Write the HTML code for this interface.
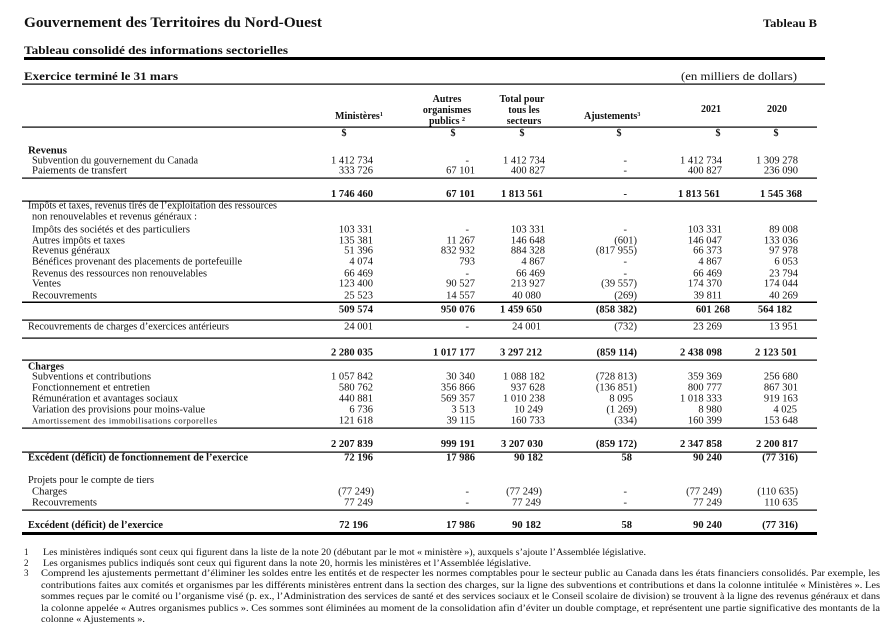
<!DOCTYPE html>
<html><head><meta charset="utf-8"><style>
html,body{margin:0;padding:0;background:#fff;}
svg{display:block;}
text{font-family:"Liberation Serif",serif;fill:#111;}
.n{font-size:10.5px;text-anchor:end;}
.l{font-size:10px;}
.b{font-weight:bold;}
.c{text-anchor:middle;}
.f{font-size:9px;}
</style></head><body>
<svg width="886" height="626" viewBox="0 0 886 626" xmlns="http://www.w3.org/2000/svg">
<text x="24" y="27" font-size="15" font-weight="bold" textLength="298" lengthAdjust="spacingAndGlyphs">Gouvernement  des Territoires  du Nord-Ouest</text>
<text x="763" y="27" font-size="12" font-weight="bold" textLength="54" lengthAdjust="spacingAndGlyphs">Tableau B</text>
<text x="24" y="54" font-size="12" font-weight="bold" textLength="264" lengthAdjust="spacingAndGlyphs">Tableau consolidé des informations sectorielles</text>
<rect x="24" y="57" width="801" height="3" fill="#000"/>
<text x="24" y="80" font-size="12" font-weight="bold" textLength="154" lengthAdjust="spacingAndGlyphs">Exercice terminé le 31 mars</text>
<text x="681" y="80" font-size="12" textLength="116" lengthAdjust="spacingAndGlyphs">(en milliers de dollars)</text>
<rect x="22" y="83.5" width="803" height="1.2" fill="#000"/>

<g font-size="10" font-weight="bold">
<text x="335" y="119">Ministères<tspan font-size="6" dy="-3">1</tspan></text>
<text x="447" y="102" class="c">Autres</text>
<text x="447" y="113" class="c">organismes</text>
<text x="447" y="124" class="c">publics <tspan font-size="6" dy="-3">2</tspan></text>
<text x="522" y="102" class="c">Total pour</text>
<text x="524" y="113" class="c">tous les</text>
<text x="524" y="124" class="c">secteurs</text>
<text x="584" y="119">Ajustements<tspan font-size="6" dy="-3">3</tspan></text>
<text x="711" y="112" class="c">2021</text>
<text x="777" y="112" class="c">2020</text>
<text x="344" y="136" class="c">$</text>
<text x="453" y="136" class="c">$</text>
<text x="522" y="136" class="c">$</text>
<text x="619" y="136" class="c">$</text>
<text x="718" y="136" class="c">$</text>
<text x="776" y="136" class="c">$</text>
</g>
<g fill="#000">
<rect x="22" y="126.5" width="795" height="1.2"/>
<rect x="22" y="177.5" width="795" height="1.2"/>
<rect x="22" y="200.5" width="795" height="1.2"/>
<rect x="22" y="301.5" width="795" height="1.5"/>
<rect x="22" y="319.5" width="795" height="1.2"/>
<rect x="22" y="337.5" width="795" height="1.2"/>
<rect x="22" y="359.5" width="795" height="1.2"/>
<rect x="22" y="427.5" width="795" height="1.2"/>
<rect x="22" y="451.5" width="795" height="1.2"/>
<rect x="22" y="509.5" width="795" height="1.2"/>
<rect x="22" y="532" width="795" height="3"/>
</g>

<text class="l b" x="28" y="153.5" textLength="39" lengthAdjust="spacingAndGlyphs">Revenus</text>
<text class="l" x="32" y="163.5" textLength="166" lengthAdjust="spacingAndGlyphs">Subvention du gouvernement du Canada</text>
<text class="l" x="32" y="173.5" textLength="95" lengthAdjust="spacingAndGlyphs">Paiements de transfert</text>
<text class="l" x="28" y="208.5" textLength="249" lengthAdjust="spacingAndGlyphs">Impôts et taxes, revenus tirés de l’exploitation des ressources</text>
<text class="l" x="32" y="219.5" textLength="165" lengthAdjust="spacingAndGlyphs">non renouvelables et revenus généraux :</text>
<text class="l" x="32" y="232.5" textLength="158" lengthAdjust="spacingAndGlyphs">Impôts des sociétés et des particuliers</text>
<text class="l" x="32" y="243.5" textLength="93" lengthAdjust="spacingAndGlyphs">Autres impôts et taxes</text>
<text class="l" x="32" y="253.5" textLength="78" lengthAdjust="spacingAndGlyphs">Revenus généraux</text>
<text class="l" x="32" y="264.5" textLength="210" lengthAdjust="spacingAndGlyphs">Bénéfices provenant des placements de portefeuille</text>
<text class="l" x="32" y="276.5" textLength="175" lengthAdjust="spacingAndGlyphs">Revenus des ressources non renouvelables</text>
<text class="l" x="32" y="286.5" textLength="29" lengthAdjust="spacingAndGlyphs">Ventes</text>
<text class="l" x="32" y="298.5" textLength="65" lengthAdjust="spacingAndGlyphs">Recouvrements</text>
<text class="l" x="28" y="329.5" textLength="201" lengthAdjust="spacingAndGlyphs">Recouvrements de charges d’exercices antérieurs</text>
<text class="l b" x="28" y="369.5" textLength="36" lengthAdjust="spacingAndGlyphs">Charges</text>
<text class="l" x="32" y="379.5" textLength="119" lengthAdjust="spacingAndGlyphs">Subventions et contributions</text>
<text class="l" x="32" y="390.5" textLength="118" lengthAdjust="spacingAndGlyphs">Fonctionnement et entretien</text>
<text class="l" x="32" y="401.5" textLength="146" lengthAdjust="spacingAndGlyphs">Rémunération et avantages sociaux</text>
<text class="l" x="32" y="412.5" textLength="173" lengthAdjust="spacingAndGlyphs">Variation des provisions pour moins-value</text>
<text x="32" y="423.5" font-size="8.5" textLength="185" lengthAdjust="spacing">Amortissement   des   immobilisations   corporelles</text>
<text class="l b" x="28" y="460.5" textLength="220" lengthAdjust="spacingAndGlyphs">Excédent (déficit) de fonctionnement de l’exercice</text>
<text class="l" x="28" y="483" textLength="126" lengthAdjust="spacingAndGlyphs">Projets pour le compte de tiers</text>
<text class="l" x="32" y="494.5" textLength="35" lengthAdjust="spacingAndGlyphs">Charges</text>
<text class="l" x="32" y="505.5" textLength="65" lengthAdjust="spacingAndGlyphs">Recouvrements</text>
<text class="l b" x="28" y="528" textLength="135" lengthAdjust="spacingAndGlyphs">Excédent (déficit) de l’exercice</text>

<text class="n" x="373" y="163.5">1 412 734</text><text class="n" x="469" y="163.5">-</text><text class="n" x="545" y="163.5">1 412 734</text><text class="n" x="627" y="163.5">-</text><text class="n" x="722" y="163.5">1 412 734</text><text class="n" x="798" y="163.5">1 309 278</text>
<text class="n" x="373" y="173.5">333 726</text><text class="n" x="475" y="173.5">67 101</text><text class="n" x="545" y="173.5">400 827</text><text class="n" x="627" y="173.5">-</text><text class="n" x="722" y="173.5">400 827</text><text class="n" x="798" y="173.5">236 090</text>
<g font-weight="bold">
<text class="n" x="373" y="197">1 746 460</text><text class="n" x="475" y="197">67 101</text><text class="n" x="543" y="197">1 813 561</text><text class="n" x="627" y="197">-</text><text class="n" x="720" y="197">1 813 561</text><text class="n" x="802" y="197">1 545 368</text>
</g>
<text class="n" x="373" y="232.5">103 331</text><text class="n" x="469" y="232.5">-</text><text class="n" x="545" y="232.5">103 331</text><text class="n" x="627" y="232.5">-</text><text class="n" x="722" y="232.5">103 331</text><text class="n" x="798" y="232.5">89 008</text>
<text class="n" x="373" y="243.5">135 381</text><text class="n" x="475" y="243.5">11 267</text><text class="n" x="545" y="243.5">146 648</text><text class="n" x="637" y="243.5">(601)</text><text class="n" x="722" y="243.5">146 047</text><text class="n" x="798" y="243.5">133 036</text>
<text class="n" x="373" y="253.5">51 396</text><text class="n" x="475" y="253.5">832 932</text><text class="n" x="545" y="253.5">884 328</text><text class="n" x="637" y="253.5">(817 955)</text><text class="n" x="722" y="253.5">66 373</text><text class="n" x="798" y="253.5">97 978</text>
<text class="n" x="373" y="264.5">4 074</text><text class="n" x="475" y="264.5">793</text><text class="n" x="545" y="264.5">4 867</text><text class="n" x="627" y="264.5">-</text><text class="n" x="722" y="264.5">4 867</text><text class="n" x="798" y="264.5">6 053</text>
<text class="n" x="373" y="276.5">66 469</text><text class="n" x="469" y="276.5">-</text><text class="n" x="545" y="276.5">66 469</text><text class="n" x="627" y="276.5">-</text><text class="n" x="722" y="276.5">66 469</text><text class="n" x="798" y="276.5">23 794</text>
<text class="n" x="373" y="286.5">123 400</text><text class="n" x="475" y="286.5">90 527</text><text class="n" x="545" y="286.5">213 927</text><text class="n" x="637" y="286.5">(39 557)</text><text class="n" x="722" y="286.5">174 370</text><text class="n" x="798" y="286.5">174 044</text>
<text class="n" x="373" y="298.5">25 523</text><text class="n" x="475" y="298.5">14 557</text><text class="n" x="541" y="298.5">40 080</text><text class="n" x="637" y="298.5">(269)</text><text class="n" x="722" y="298.5">39 811</text><text class="n" x="798" y="298.5">40 269</text>
<g font-weight="bold">
<text class="n" x="373" y="312.5">509 574</text><text class="n" x="475" y="312.5">950 076</text><text class="n" x="542" y="312.5">1 459 650</text><text class="n" x="637" y="312.5">(858 382)</text><text class="n" x="730" y="312.5">601 268</text><text class="n" x="792" y="312.5">564 182</text>
</g>
<text class="n" x="373" y="329.5">24 001</text><text class="n" x="469" y="329.5">-</text><text class="n" x="541" y="329.5">24 001</text><text class="n" x="637" y="329.5">(732)</text><text class="n" x="722" y="329.5">23 269</text><text class="n" x="798" y="329.5">13 951</text>
<g font-weight="bold">
<text class="n" x="373" y="355.5">2 280 035</text><text class="n" x="475" y="355.5">1 017 177</text><text class="n" x="542" y="355.5">3 297 212</text><text class="n" x="637" y="355.5">(859 114)</text><text class="n" x="722" y="355.5">2 438 098</text><text class="n" x="797" y="355.5">2 123 501</text>
</g>
<text class="n" x="373" y="379.5">1 057 842</text><text class="n" x="475" y="379.5">30 340</text><text class="n" x="545" y="379.5">1 088 182</text><text class="n" x="637" y="379.5">(728 813)</text><text class="n" x="722" y="379.5">359 369</text><text class="n" x="798" y="379.5">256 680</text>
<text class="n" x="373" y="390.5">580 762</text><text class="n" x="475" y="390.5">356 866</text><text class="n" x="545" y="390.5">937 628</text><text class="n" x="637" y="390.5">(136 851)</text><text class="n" x="722" y="390.5">800 777</text><text class="n" x="798" y="390.5">867 301</text>
<text class="n" x="373" y="401.5">440 881</text><text class="n" x="475" y="401.5">569 357</text><text class="n" x="545" y="401.5">1 010 238</text><text class="n" x="633" y="401.5">8 095</text><text class="n" x="722" y="401.5">1 018 333</text><text class="n" x="798" y="401.5">919 163</text>
<text class="n" x="373" y="412.5">6 736</text><text class="n" x="475" y="412.5">3 513</text><text class="n" x="543" y="412.5">10 249</text><text class="n" x="637" y="412.5">(1 269)</text><text class="n" x="722" y="412.5">8 980</text><text class="n" x="797" y="412.5">4 025</text>
<text class="n" x="373" y="423.5">121 618</text><text class="n" x="475" y="423.5">39 115</text><text class="n" x="545" y="423.5">160 733</text><text class="n" x="637" y="423.5">(334)</text><text class="n" x="722" y="423.5">160 399</text><text class="n" x="798" y="423.5">153 648</text>
<g font-weight="bold">
<text class="n" x="373" y="447">2 207 839</text><text class="n" x="475" y="447">999 191</text><text class="n" x="543" y="447">3 207 030</text><text class="n" x="637" y="447">(859 172)</text><text class="n" x="722" y="447">2 347 858</text><text class="n" x="798" y="447">2 200 817</text>
<text class="n" x="373" y="460.5">72 196</text><text class="n" x="475" y="460.5">17 986</text><text class="n" x="543" y="460.5">90 182</text><text class="n" x="632" y="460.5">58</text><text class="n" x="722" y="460.5">90 240</text><text class="n" x="798" y="460.5">(77 316)</text>
</g>
<text class="n" x="374" y="494.5">(77 249)</text><text class="n" x="469" y="494.5">-</text><text class="n" x="542" y="494.5">(77 249)</text><text class="n" x="627" y="494.5">-</text><text class="n" x="722" y="494.5">(77 249)</text><text class="n" x="798" y="494.5">(110 635)</text>
<text class="n" x="373" y="505.5">77 249</text><text class="n" x="469" y="505.5">-</text><text class="n" x="541" y="505.5">77 249</text><text class="n" x="627" y="505.5">-</text><text class="n" x="722" y="505.5">77 249</text><text class="n" x="798" y="505.5">110 635</text>
<g font-weight="bold">
<text class="n" x="368" y="528">72 196</text><text class="n" x="475" y="528">17 986</text><text class="n" x="541" y="528">90 182</text><text class="n" x="632" y="528">58</text><text class="n" x="722" y="528">90 240</text><text class="n" x="798" y="528">(77 316)</text>
</g>

<text class="f" x="24" y="555">1</text>
<text class="f" x="43" y="555" textLength="603" lengthAdjust="spacingAndGlyphs">Les ministères indiqués sont ceux qui figurent dans la liste de la note 20 (débutant par le mot « ministère »), auxquels s’ajoute l’Assemblée législative.</text>
<text class="f" x="24" y="566">2</text>
<text class="f" x="43" y="566" textLength="488" lengthAdjust="spacingAndGlyphs">Les organismes publics indiqués sont ceux qui figurent dans la note 20, hormis les ministères et l’Assemblée législative.</text>
<text class="f" x="24" y="576">3</text>
<text class="f" x="41" y="576" textLength="839" lengthAdjust="spacingAndGlyphs">Comprend les ajustements permettant d’éliminer les soldes entre les entités et de respecter les normes comptables pour le secteur public au Canada dans les états financiers consolidés. Par exemple, les</text>
<text class="f" x="41" y="588" textLength="839" lengthAdjust="spacingAndGlyphs">contributions faites aux comités et organismes par les différents ministères entrent dans la section des charges, sur la ligne des subventions et contributions et dans la colonne intitulée « Ministères ». Les</text>
<text class="f" x="41" y="599" textLength="839" lengthAdjust="spacingAndGlyphs">sommes reçues par le comité ou l’organisme visé (p. ex., l’Administration des services de santé et des services sociaux et le Conseil scolaire de division) se trouvent à la ligne des revenus généraux et dans</text>
<text class="f" x="41" y="611" textLength="839" lengthAdjust="spacingAndGlyphs">la colonne appelée « Autres organismes publics ». Ces sommes sont éliminées au moment de la consolidation afin d’éviter un double comptage, et représentent une partie significative des montants de la</text>
<text class="f" x="41" y="622" textLength="104" lengthAdjust="spacingAndGlyphs">colonne « Ajustements ».</text>
</svg>
</body></html>
